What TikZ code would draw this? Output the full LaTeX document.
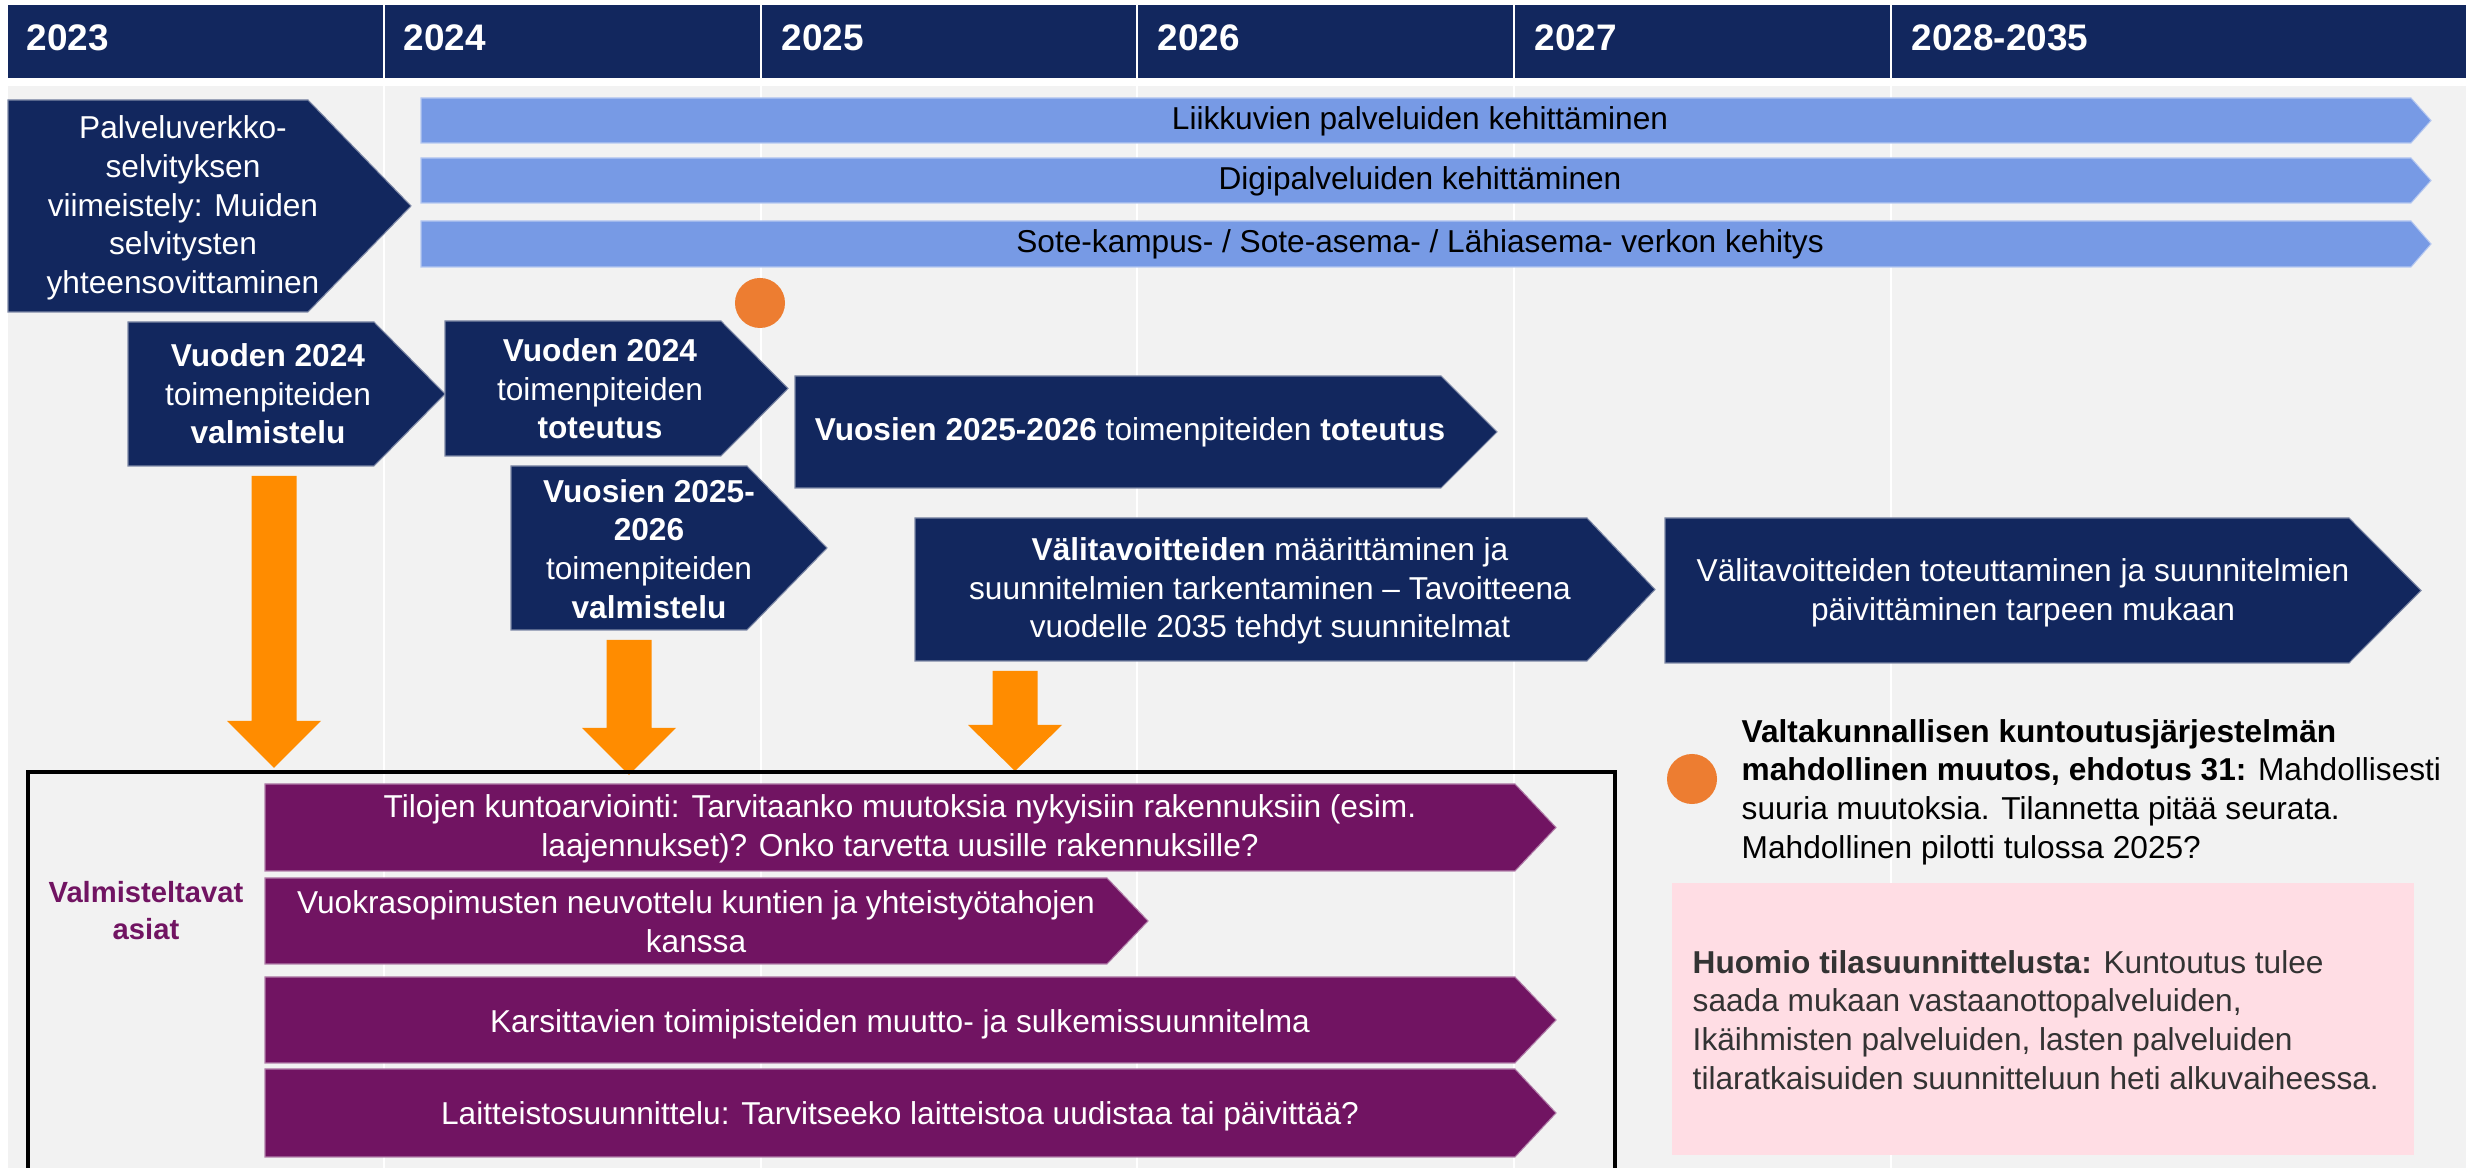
\documentclass[tikz,border=0pt]{standalone}
\usepackage{fontspec}
\setmainfont{Liberation Sans}
\definecolor{navy}{RGB}{18,39,94}
\definecolor{bggray}{RGB}{242,242,242}
\definecolor{lblue}{RGB}{119,154,229}
\definecolor{arrorange}{RGB}{255,140,0}
\definecolor{circorange}{RGB}{237,125,49}
\definecolor{plum}{RGB}{113,20,98}
\definecolor{pinkbg}{RGB}{255,221,228}
\definecolor{darktxt}{RGB}{51,51,51}
\newcommand\hplate[6]{\filldraw[fill=#1, draw=#1!55!white, line width=0.3pt] (#2,#3) -- (#4,#3) -- (#5,{(#3+#6)/2}) -- (#4,#6) -- (#2,#6) -- cycle;}
\newcommand\downarr[4]{\fill[arrorange] ({#1-22.5},#2) -- ({#1+22.5},#2) -- ({#1+22.5},#3) -- ({#1+47},#3) -- (#1,#4) -- ({#1-47},#3) -- ({#1-22.5},#3) -- cycle;}
\tikzset{
  tx/.style={font=\fontsize{9}{11}\selectfont, align=center, inner sep=0pt},
  wt/.style={tx, text=white},
  yr/.style={font=\bfseries\fontsize{10.5}{12}\selectfont, text=white, anchor=west, inner sep=0pt},
  grid/.style={white, line width=0.6pt},
  dot/.style={circle, fill=circorange, minimum size=0.5cm, inner sep=0pt}
}
\begin{document}
\begin{tikzpicture}[x=0.01cm,y=-0.01cm]
\useasboundingbox (0,0) rectangle (2475,1168);
\fill[white] (0,0) rectangle (2475,1168);
% header
\fill[navy] (8,5) rectangle (2466,78);
\fill[bggray] (8,86) rectangle (2466,1168);
\foreach \x in {384,761,1137,1514,1891} {
  \draw[grid] (\x,5) -- (\x,78);
  \draw[grid] (\x,86) -- (\x,1168);
}
\node[yr] (y23) at (26,38) {2023};
\node[yr] (y24) at (403,38) {2024};
\node[yr] (y25) at (781,38) {2025};
\node[yr] (y26) at (1157,38) {2026};
\node[yr] (y27) at (1534,38) {2027};
\node[yr] (y28) at (1911,38) {2028-2035};
% light blue bars
\hplate{lblue}{421}{98}{2411}{2431}{143}
\hplate{lblue}{421}{158}{2411}{2431}{203}
\hplate{lblue}{421}{221}{2411}{2431}{267}
\node[tx] (b1) at (1420,121) {Liikkuvien palveluiden kehittäminen};
\node[tx] (b2) at (1420,181) {Digipalveluiden kehittäminen};
\node[tx] (b3) at (1420,244) {Sote-kampus- / Sote-asema- / Lähiasema- verkon kehitys};
% navy chevrons
\hplate{navy}{8}{100}{308}{411}{312}
\node[wt] (pv) at (183,208) {Palveluverkko-\\selvityksen\\viimeistely: Muiden\\selvitysten\\yhteensovittaminen};
\hplate{navy}{128}{322}{374}{445}{466}
\node[wt] (v24v) at (268,394) {\textbf{Vuoden 2024}\\toimenpiteiden\\\textbf{valmistelu}};
\hplate{navy}{445}{321}{721}{788}{456}
\node[wt] (v24t) at (600,389) {\textbf{Vuoden 2024}\\toimenpiteiden\\\textbf{toteutus}};
\hplate{navy}{795}{376}{1441}{1497}{488}
\node[wt] (v26t) at (1130,432) {\textbf{Vuosien 2025-2026} toimenpiteiden \textbf{toteutus}};
\hplate{navy}{511}{466}{747}{827}{630}
\node[wt] (v26v) at (649,549) {\textbf{Vuosien 2025-}\\\textbf{2026}\\toimenpiteiden\\\textbf{valmistelu}};
\hplate{navy}{915}{518}{1587}{1655}{661}
\node[wt] (vt1) at (1270,591) {\textbf{Välitavoitteiden} määrittäminen ja\\suunnitelmien tarkentaminen – Tavoitteena\\vuodelle 2035 tehdyt suunnitelmat};
\hplate{navy}{1665}{518}{2349}{2421}{663}
\node[wt] (vt2) at (2023,593) {Välitavoitteiden toteuttaminen ja suunnitelmien\\päivittäminen tarpeen mukaan};
\node[dot] (c1) at (760,303) {};
% orange arrows
\downarr{274}{476}{721}{768}
\downarr{629}{640}{728}{775}
\downarr{1015}{671}{725}{771}
% black frame
\draw[black, line width=1.3pt] (28,1180) -- (28,772) -- (1615,772) -- (1615,1180);
% purple chevrons
\hplate{plum}{265}{784}{1515}{1556}{871}
\node[wt] (p1) at (900,829) {Tilojen kuntoarviointi: Tarvitaanko muutoksia nykyisiin rakennuksiin (esim.\\laajennukset)? Onko tarvetta uusille rakennuksille?};
\hplate{plum}{265}{878}{1107}{1148}{964}
\node[wt] (p2) at (696,922) {Vuokrasopimusten neuvottelu kuntien ja yhteistyötahojen\\kanssa};
\hplate{plum}{265}{977}{1515}{1556}{1063}
\node[wt] (p3) at (900,1024) {Karsittavien toimipisteiden muutto- ja sulkemissuunnitelma};
\hplate{plum}{265}{1069}{1515}{1556}{1157}
\node[wt] (p4) at (900,1116) {Laitteistosuunnittelu: Tarvitseeko laitteistoa uudistaa tai päivittää?};
\node[font=\bfseries\fontsize{8.3}{10.5}\selectfont, text=plum, align=center, inner sep=0pt] (va) at (146,911) {Valmisteltavat\\asiat};
% right side notes
\node[dot] (c2) at (1692,779) {};
\node[tx, align=left, anchor=west, text=black] (valt) at (1741,792) {\textbf{Valtakunnallisen kuntoutusjärjestelmän}\\\textbf{mahdollinen muutos, ehdotus 31:} Mahdollisesti\\suuria muutoksia. Tilannetta pitää seurata.\\Mahdollinen pilotti tulossa 2025?};
\fill[pinkbg] (1672,883) rectangle (2414,1155);
\node[tx, align=left, anchor=west, text=darktxt] (huom) at (1692,1020) {\textbf{Huomio tilasuunnittelusta:} Kuntoutus tulee\\saada mukaan vastaanottopalveluiden,\\Ikäihmisten palveluiden, lasten palveluiden\\tilaratkaisuiden suunnitteluun heti alkuvaiheessa.};
\end{tikzpicture}
\end{document}
